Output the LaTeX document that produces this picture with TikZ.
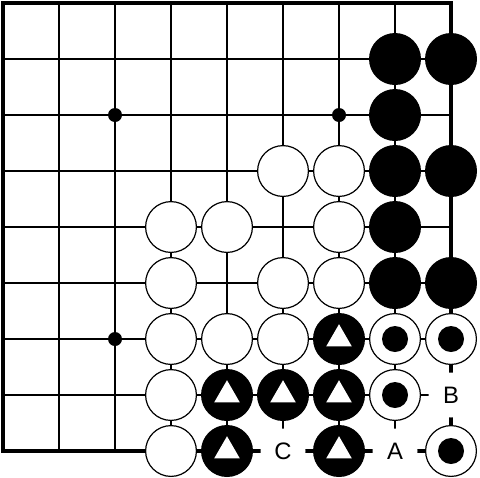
\documentclass[tikz,border=0pt]{standalone}
\usepackage{fontspec}
\setmainfont{Liberation Sans}
\usetikzlibrary{shapes.geometric}
\tikzset{
  thinline/.style={line width=0.6pt, black},
  edgeline/.style={line width=2pt, black, line cap=rect},
  bstone/.style={circle, fill=black, minimum size=26pt, inner sep=0pt},
  wstone/.style={circle, fill=white, draw=black, line width=0.6pt, minimum size=25.4pt, inner sep=0pt},
  trimark/.style={regular polygon, regular polygon sides=3, fill=white, minimum size=14.8pt, inner sep=0pt},
  dotmark/.style={circle, fill=black, minimum size=13pt, inner sep=0pt},
  starpt/.style={circle, fill=black, minimum size=7pt, inner sep=0pt},
  lbl/.style={circle, fill=white, minimum size=22.5pt, inner sep=0pt, font=\fontsize{11.9}{12}\selectfont},
}
\begin{document}
\begin{tikzpicture}[x=0.5pt,y=-0.5pt]
\useasboundingbox (0,0) rectangle (480,477);
% grid
\foreach \i in {1,...,7} {
  \draw[thinline] ({3+56*\i},3) -- ({3+56*\i},451);
  \draw[thinline] (3,{3+56*\i}) -- (451,{3+56*\i});
}
\draw[edgeline] (3,3) rectangle (451,451);
% star points
\node[starpt] (s1) at (115,115) {};
\node[starpt] (s2) at (339,115) {};
\node[starpt] (s3) at (115,339) {};
% black stones
\foreach \c/\r in {7/1,8/1,7/2,7/3,8/3,7/4,7/5,8/5} {
  \node[bstone] (b-\c-\r) at ({3+56*\c},{3+56*\r}) {};
}
% white stones
\foreach \c/\r in {5/3,6/3,3/4,4/4,6/4,3/5,5/5,6/5,3/6,4/6,5/6,3/7,3/8} {
  \node[wstone] (w-\c-\r) at ({3+56*\c},{3+56*\r}) {};
}
% black stones marked with triangles
\foreach \c/\r in {6/6,4/7,5/7,6/7,4/8,6/8} {
  \node[bstone] (bt-\c-\r) at ({3+56*\c},{3+56*\r}) {};
  \node[trimark] (t-\c-\r) at (bt-\c-\r.center) {};
}
% white stones marked with dots
\foreach \c/\r in {7/6,8/6,7/7,8/8} {
  \node[wstone] (wd-\c-\r) at ({3+56*\c},{3+56*\r}) {};
  \node[dotmark] (d-\c-\r) at (wd-\c-\r.center) {};
}
% labels
\node[lbl] (lC) at (283,451) {C};
\node[lbl] (lA) at (395,451) {A};
\node[lbl] (lB) at (451,395) {B};
\end{tikzpicture}
\end{document}
